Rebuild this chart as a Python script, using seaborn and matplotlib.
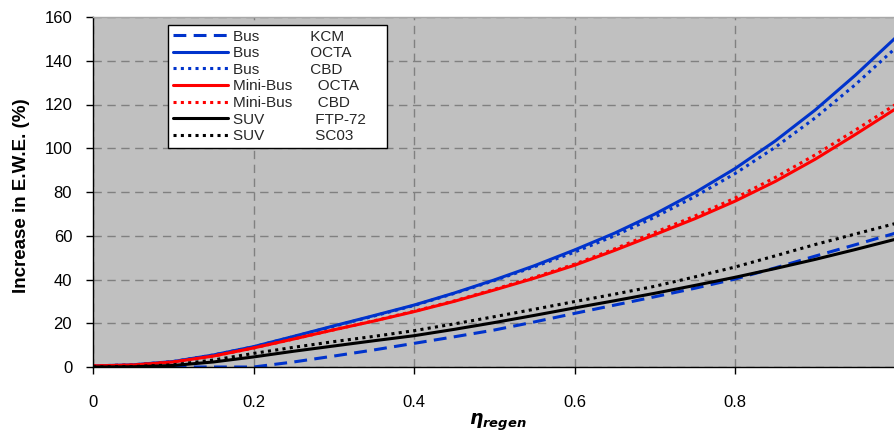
import matplotlib
matplotlib.use("Agg")
import matplotlib.pyplot as plt
import seaborn as sns
import pandas as pd

# ---- data ----
eta = [0.00, 0.05, 0.10, 0.15, 0.20, 0.25, 0.30, 0.35, 0.40, 0.45, 0.50,
       0.55, 0.60, 0.65, 0.70, 0.75, 0.80, 0.85, 0.90, 0.95, 1.00]
bus_kcm = [0.0, 0.0, 0.0, 0.0, 0.0, 2.3, 5.0, 7.8, 10.8, 13.8, 16.9,
           20.6, 24.5, 28.3, 32.1, 36.0, 40.2, 45.3, 50.7, 55.9, 61.2]
bus_octa = [0.5, 1.0, 2.5, 5.5, 9.3, 14.0, 18.8, 23.5, 28.3, 33.8, 39.8,
            46.3, 53.5, 61.2, 69.9, 79.7, 90.7, 103.3, 117.5, 133.4, 150.5]
bus_cbd = [0.5, 1.0, 2.5, 5.5, 9.2, 13.9, 18.6, 23.3, 28.1, 33.6, 39.5,
           45.8, 52.5, 60.0, 68.5, 77.9, 88.4, 100.4, 113.9, 129.1, 145.8]
mini_octa = [0.5, 0.9, 2.3, 5.0, 8.7, 12.8, 17.0, 21.0, 25.3, 30.0, 35.2,
             40.6, 46.5, 53.3, 60.5, 67.8, 75.8, 84.8, 95.0, 106.3, 118.0]
mini_cbd = [0.5, 0.9, 2.3, 5.0, 8.7, 12.8, 17.0, 21.1, 25.5, 30.2, 35.5,
            41.0, 47.0, 54.0, 61.5, 69.0, 77.2, 86.6, 97.0, 108.3, 120.0]
suv_ftp = [0.0, 0.1, 0.7, 2.3, 4.6, 7.2, 9.6, 12.0, 14.3, 17.2, 20.3,
           23.6, 27.0, 30.3, 33.7, 37.3, 41.0, 45.0, 49.2, 53.7, 58.4]
suv_sc03 = [0.0, 0.2, 1.0, 3.2, 6.2, 9.0, 11.6, 14.0, 16.6, 19.7, 23.0,
            26.4, 29.9, 33.3, 36.9, 41.2, 45.7, 50.8, 56.0, 60.8, 65.6]

labels = ["Bus            KCM",
          "Bus            OCTA",
          "Bus            CBD",
          "Mini-Bus      OCTA",
          "Mini-Bus      CBD",
          "SUV            FTP-72    ",
          "SUV            SC03"]
series = [bus_kcm, bus_octa, bus_cbd, mini_octa, mini_cbd, suv_ftp, suv_sc03]

y_ticks = [0, 20, 40, 60, 80, 100, 120, 140, 160]
x_ticks = [0.0, 0.2, 0.4, 0.6, 0.8]
x_ticklabels = ["0", "0.2", "0.4", "0.6", "0.8"]

# ---- styles ----
BLUE = "#0033cc"
RED = "#ff0000"
BLACK = "#000000"
DOT = (0, (1, 1.4))
styles = [
    dict(color=BLUE, linestyle=(0, (4.2, 2.4)), linewidth=2.2),
    dict(color=BLUE, linestyle="-", linewidth=2.2),
    dict(color=BLUE, linestyle=DOT, linewidth=2.2),
    dict(color=RED, linestyle="-", linewidth=2.2),
    dict(color=RED, linestyle=DOT, linewidth=2.2),
    dict(color=BLACK, linestyle="-", linewidth=2.2),
    dict(color=BLACK, linestyle=DOT, linewidth=2.2),
]

sns.set_theme(style="white")
plt.rcParams["font.family"] = ["Liberation Sans", "DejaVu Sans"]
plt.rcParams["mathtext.fontset"] = "custom"
plt.rcParams["mathtext.bf"] = "Liberation Sans:bold:italic"
plt.rcParams["mathtext.it"] = "Liberation Sans:italic"

fig = plt.figure(figsize=(8.94, 4.33), dpi=100)
ax = fig.add_axes([93 / 894, 66 / 433, 802.5 / 894, 350 / 433])
ax.set_facecolor("#c0c0c0")

for lab, ys, st in zip(labels, series, styles):
    df = pd.DataFrame({"eta": eta, "val": ys})
    sns.lineplot(data=df, x="eta", y="val", ax=ax, label=lab,
                 estimator=None, sort=False, **st)

ax.set_xlim(0, 1.0)
ax.set_ylim(0, 160)
ax.set_yticks(y_ticks)
ax.set_xticks(x_ticks)
ax.set_xticklabels(x_ticklabels)
ax.grid(True, color="#808080", linestyle=(0, (6, 4)), linewidth=1.0)
ax.set_axisbelow(True)

ax.spines["right"].set_visible(False)
ax.spines["top"].set_color("#a8a8a8")
ax.spines["top"].set_linewidth(1.0)
for s in ["left", "bottom"]:
    ax.spines[s].set_color("black")
    ax.spines[s].set_linewidth(1.0)

ax.tick_params(axis="x", direction="out", length=5, width=1, color="black",
               pad=15, labelsize=12, labelcolor="black", bottom=True)
ax.tick_params(axis="y", direction="out", length=5, width=1, color="black",
               pad=10, labelsize=12, labelcolor="black", left=True)

ax.set_ylabel("Increase in E.W.E. (%)", fontsize=13.5, fontweight="bold",
              color="black")
ax.yaxis.set_label_coords(-0.079, 0.49)
ax.set_xlabel(r"$\boldsymbol{\eta}_{\boldsymbol{regen}}$", fontsize=13.5,
              color="black")
ax.xaxis.set_label_coords(0.505, -0.128)

leg = ax.legend(loc="upper left", bbox_to_anchor=(0.0935, 0.977),
                fontsize=11, frameon=True, fancybox=False, shadow=False,
                handlelength=3.6, handletextpad=0.35, labelspacing=0.17,
                borderpad=0.3, borderaxespad=0)
leg.get_frame().set_edgecolor("black")
leg.get_frame().set_facecolor("white")
leg.get_frame().set_linewidth(1.0)
leg.get_frame().set_alpha(1.0)

fig.savefig("out.png", dpi=100)
